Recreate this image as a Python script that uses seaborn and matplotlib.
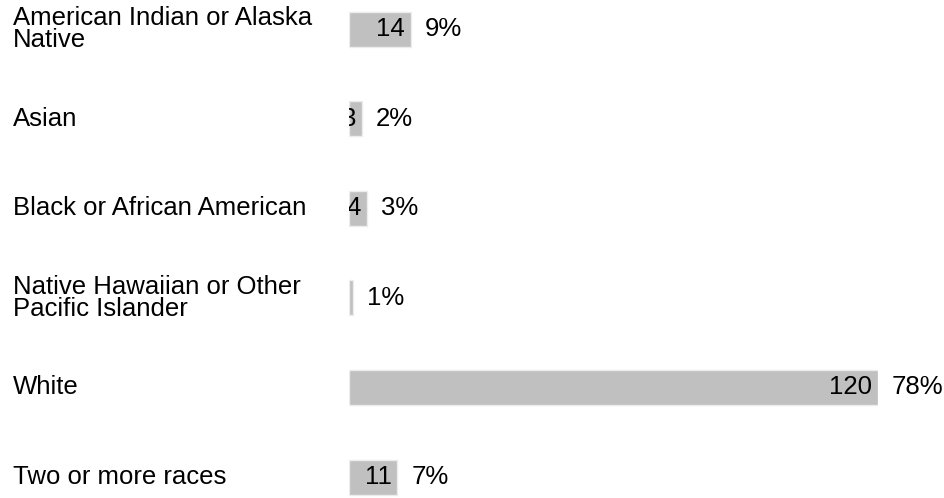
import matplotlib
matplotlib.use('Agg')
import matplotlib.pyplot as plt
import matplotlib.transforms as mtransforms
import seaborn as sns
import pandas as pd

races = ['American Indian or Alaska\nNative', 'Asian', 'Black or African American',
         'Native Hawaiian or Other\nPacific Islander', 'White', 'Two or more races']
counts = [14, 3, 4, 1, 120, 11]
percents = ['9%', '2%', '3%', '1%', '78%', '7%']

df = pd.DataFrame({'race': races, 'count': counts})

sns.set_style('white')
plt.rcParams['font.family'] = ['Liberation Sans', 'DejaVu Sans']
plt.rcParams['text.color'] = 'black'

fig = plt.figure(figsize=(9.45, 4.98), dpi=100)
ax = fig.add_axes([349 / 945, 0, 529 / 945, 1])

sns.barplot(data=df, x='count', y='race', orient='h', color='#c0c0c0',
            saturation=1, edgecolor='#ececec', linewidth=1, width=0.39, ax=ax)

ax.set_xlim(0, 120)
ax.set_ylim(5.234, -0.324)
ax.set_xlabel('')
ax.set_ylabel('')
ax.set_xticks([])
ax.set_yticks([])
sns.despine(ax=ax, left=True, bottom=True)

fs = 18.5

# labels on the left, aligned with bar centres
trans = mtransforms.blended_transform_factory(fig.transFigure, ax.transData)
for i, r in enumerate(races):
    ax.text(13 / 945, i, r, transform=trans, ha='left', va='center',
            fontsize=fs, linespacing=0.88, clip_on=False)

# count inside bar (clipped to bar) and percent next to it
for i, patch in enumerate(ax.patches):
    end = patch.get_x() + patch.get_width()
    yc = patch.get_y() + patch.get_height() / 2
    t = ax.annotate(str(counts[i]), (end, yc), xytext=(-4, 0), textcoords='offset points',
                    ha='right', va='center', fontsize=fs)
    t.set_clip_path(patch)
    ax.annotate(percents[i], (end, yc), xytext=(10, 0), textcoords='offset points',
                ha='left', va='center', fontsize=fs, annotation_clip=False)

plt.savefig('out.png', dpi=100)
